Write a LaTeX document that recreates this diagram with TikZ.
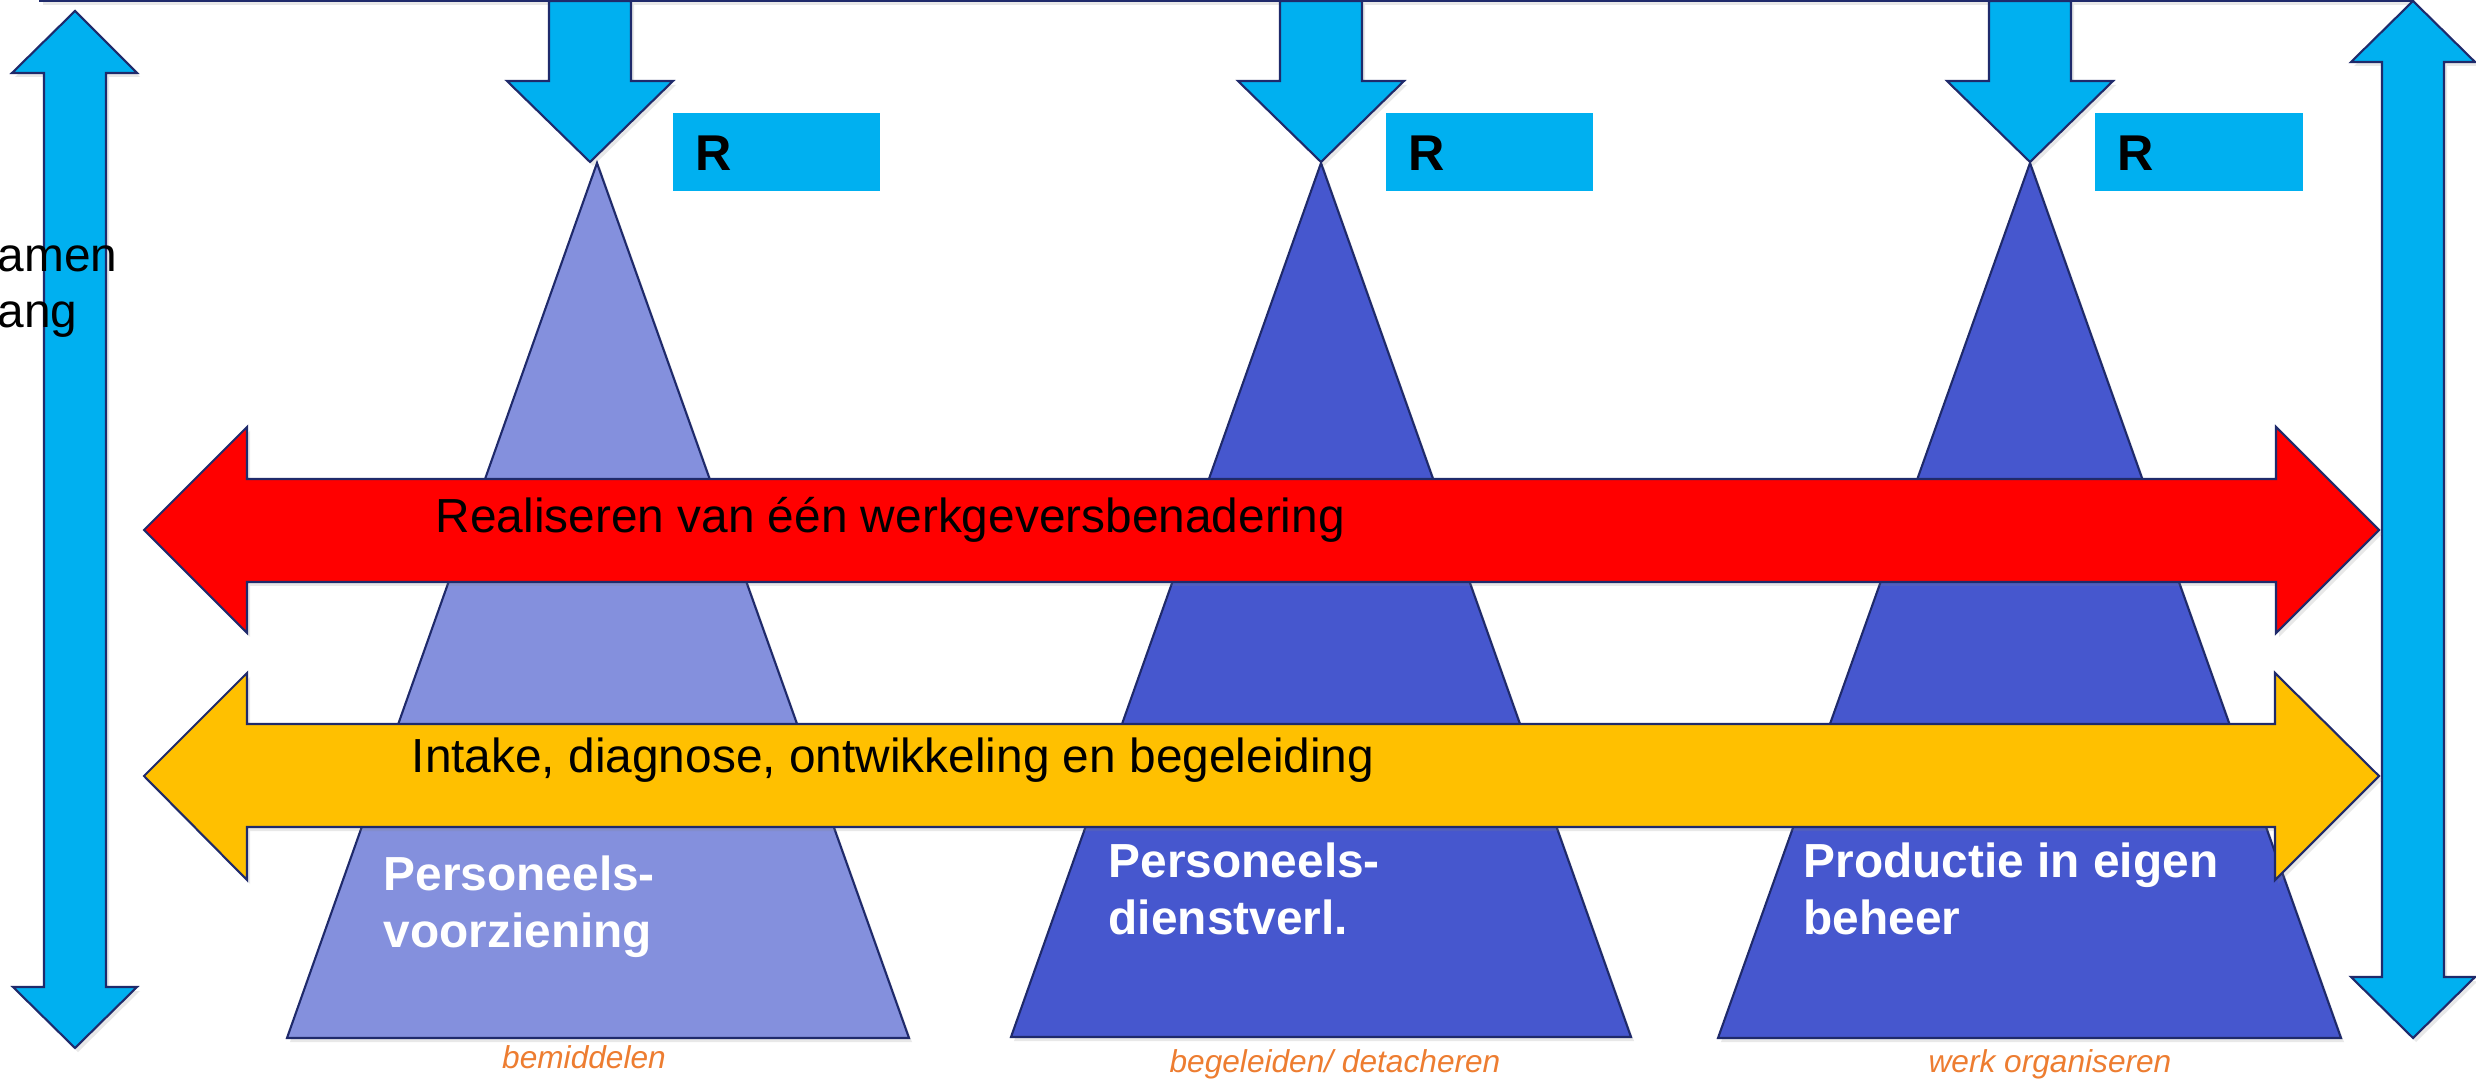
\documentclass[tikz,border=0pt]{standalone}
\usepackage{fontspec}
\setmainfont{Liberation Sans}
\usetikzlibrary{shadows}
\definecolor{navy}{HTML}{1F2A6B}
\definecolor{skyblue}{HTML}{00B0F0}
\definecolor{lightpyr}{HTML}{8490DD}
\definecolor{darkpyr}{HTML}{4657CE}
\definecolor{redarr}{HTML}{FF0000}
\definecolor{yelarr}{HTML}{FFC000}
\definecolor{orangelbl}{HTML}{ED7D31}
\tikzset{
    outlined/.style={draw=navy, line width=0.6pt, line join=miter, drop shadow={shadow xshift=0.03cm, shadow yshift=-0.04cm, opacity=0.18}},
    bigtxt/.style={inner sep=0pt, anchor=base west, font=\fontsize{13.6}{16}\selectfont},
    pyrtxt/.style={inner sep=0pt, anchor=base west, text=white, font=\fontsize{13.6}{16}\selectfont\bfseries},
    subtxt/.style={inner sep=0pt, anchor=base, text=orangelbl, font=\fontsize{9}{11}\selectfont\itshape},
    rtxt/.style={inner sep=0pt, anchor=base west, font=\fontsize{14.3}{17}\selectfont\bfseries}
}
\begin{document}
\begin{tikzpicture}[x=0.01cm, y=-0.01cm]
                \useasboundingbox (0,0) rectangle (2476,1080);
                \clip (0,0) rectangle (2476,1080);

                \fill[white, outlined] (40,-40) rectangle (2412,1);

                \foreach \cx in {590,1321,2030} {
                    \fill[skyblue, outlined] (\cx-41,1) -- (\cx+41,1) -- (\cx+41,81) -- (\cx+83,81) -- (\cx,162) -- (\cx-83,81) -- (\cx-41,81) -- cycle;
                }

                \fill[lightpyr, outlined] (597,163) -- (909,1038) -- (287,1038) -- cycle;
                \fill[darkpyr, outlined] (1321,163) -- (1631,1037) -- (1011,1037) -- cycle;
                \fill[darkpyr, outlined] (2030,163) -- (2341,1038) -- (1718,1038) -- cycle;

                \fill[skyblue] (673,113) rectangle (880,191); \fill[skyblue] (1386,113) rectangle (1593,191); \fill[skyblue] (2095,113) rectangle (2303,191);
                \node[rtxt] (r1) at (695,171) {R}; \node[rtxt] (r2) at (1408,171) {R}; \node[rtxt] (r3) at (2117,171) {R};

                \fill[skyblue, outlined] (75,11) -- (137,73) -- (106,73) -- (106,987) -- (137,987) -- (75,1048) -- (13,987) -- (44,987) -- (44,73) -- (12,73) -- cycle;
                \fill[skyblue, outlined] (2413,1) -- (2475,62) -- (2444,62) -- (2444,977) -- (2475,977) -- (2413,1038) -- (2351,977) -- (2382,977) -- (2382,62) -- (2351,62) -- cycle;

                \fill[redarr, outlined] (144,530) -- (247,427) -- (247,479) -- (2276,479) -- (2276,427) -- (2379,530) -- (2276,633) -- (2276,582) -- (247,582) -- (247,633) -- cycle;
                \fill[yelarr, outlined] (144,776) -- (247,673) -- (247,724) -- (2275,724) -- (2275,673) -- (2379,776) -- (2275,880) -- (2275,827) -- (247,827) -- (247,880) -- cycle;

                \node[bigtxt] (samen) at (-3,272) {amen};
                \node[bigtxt] (gang) at (-3,328) {ang};
                \node[bigtxt] (werkgever) at (435,533) {Realiseren van één werkgeversbenadering};
                \node[bigtxt] (intake) at (411,773) {Intake, diagnose, ontwikkeling en begeleiding};

                \node[pyrtxt] (voorz1) at (383,891) {Personeels-}; \node[pyrtxt] (voorz2) at (383,948) {voorziening};
                \node[pyrtxt] (dienst1) at (1108,877) {Personeels-}; \node[pyrtxt] (dienst2) at (1108,934) {dienstverl.};
                \node[pyrtxt] (prod1) at (1803,877) {Productie in eigen}; \node[pyrtxt] (prod2) at (1803,934) {beheer};

                \node[subtxt] (bemid) at (584,1068) {bemiddelen};
                \node[subtxt] (begel) at (1335,1072) {begeleiden/ detacheren};
                \node[subtxt] (organ) at (2050,1072) {werk organiseren};
            \end{tikzpicture}
\end{document}
